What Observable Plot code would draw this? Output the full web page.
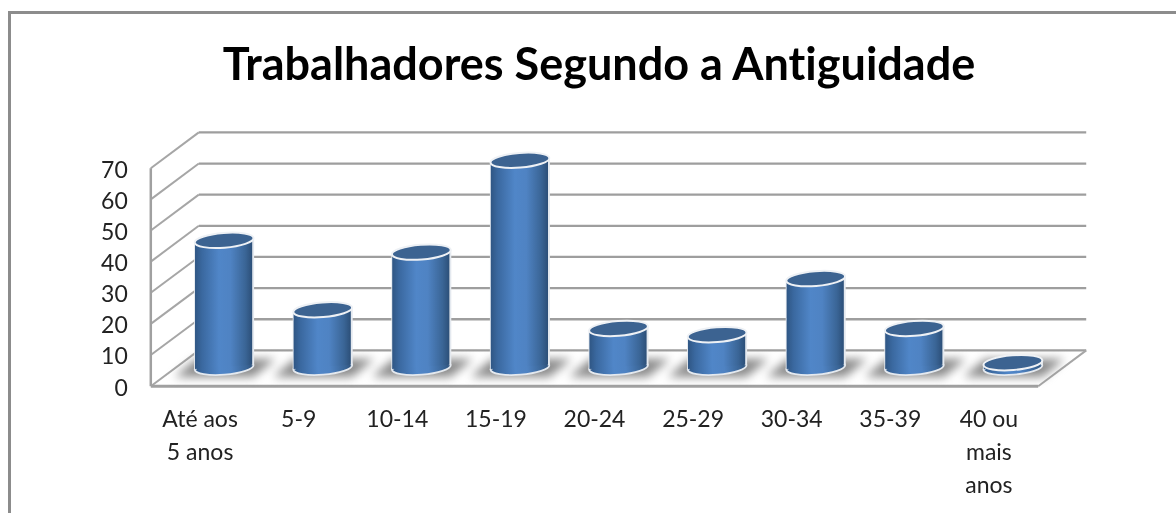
<!DOCTYPE html>
<html lang="pt">
<head>
<meta charset="utf-8">
<script src="https://cdn.jsdelivr.net/npm/d3@7"></script>
<script src="https://cdn.jsdelivr.net/npm/@observablehq/plot@0.6"></script>
<style>
html,body{margin:0;padding:0;background:#fff;width:1176px;height:513px;overflow:hidden}
#wrap{position:relative;width:1176px;height:513px;filter:blur(0.45px);font-variant-ligatures:none}
#frame{position:absolute;left:8px;top:11px;width:1200px;height:520px;border:3px solid #8c8c8c;box-sizing:border-box}
#title{position:absolute;left:0;top:34px;width:1198px;text-align:center;font:700 45px/58px Lato,sans-serif;color:#000;margin:0;font-variant-ligatures:none}
svg{position:absolute;left:0;top:0}
</style>
</head>
<body>
<div id="wrap">
<div id="frame"></div>
<h1 id="title">Trabalhadores Segundo a Antiguidade</h1>
</div>
<script>
const categories = ["Até aos\n5 anos","5-9","10-14","15-19","20-24","25-29","30-34","35-39","40 ou\nmais\nanos"];
const values = [40.8,18.5,37,66.5,12.5,10.5,28.5,12.5,1.5];
const yTicks = [0,10,20,30,40,50,60,70];

// 3-D projection expressed in data units
const depthX = 0.487, depthY = 11.5;
const halfBar = 0.29, tilt = 0.7;
const cx = i => i + 0.5 + depthX / 2;
const base = depthY / 2 + 0.3;

const bars = categories.map((c,i)=>({c,i,v:values[i],x:cx(i),y0:base,y1:base+values[i]}));
const sides = bars.flatMap(b=>[
  {b:b.i,x:b.x-halfBar,y0:b.y0-tilt,y1:b.y1-tilt},
  {b:b.i,x:b.x+halfBar,y0:b.y0+tilt,y1:b.y1+tilt}
]);

const ellipse = {draw(ctx,size){
  const r=Math.sqrt(size/Math.PI), ry=r*0.25, k=0.5523;
  ctx.moveTo(-r,0);
  ctx.bezierCurveTo(-r,-ry*k,-r*k,-ry,0,-ry);
  ctx.bezierCurveTo(r*k,-ry,r,-ry*k,r,0);
  ctx.bezierCurveTo(r,ry*k,r*k,ry,0,ry);
  ctx.bezierCurveTo(-r*k,ry,-r,ry*k,-r,0);
  ctx.closePath();
}};
const shadow = {draw(ctx,size){
  const r=Math.sqrt(size/Math.PI);
  ctx.moveTo(-r*0.88,r*0.17);
  ctx.lineTo(-r*0.5,-r*0.15);
  ctx.lineTo(r*0.92,-r*0.15);
  ctx.lineTo(r*0.52,r*0.17);
  ctx.closePath();
}};

const defs = () => {
  const ns="http://www.w3.org/2000/svg";
  const d=document.createElementNS(ns,"defs");
  d.innerHTML=`<linearGradient id="body" x1="0" x2="1" y1="0" y2="0">
    <stop offset="0" stop-color="#2f5684"/><stop offset="0.12" stop-color="#3a689f"/>
    <stop offset="0.42" stop-color="#5086c8"/><stop offset="0.62" stop-color="#4f83c3"/>
    <stop offset="0.88" stop-color="#3a6596"/><stop offset="1" stop-color="#2c4f78"/>
  </linearGradient>`;
  return d;
};

const chart = Plot.plot({
  width:1176,height:513,
  marginTop:167.7,marginBottom:127.3,marginLeft:150.3,marginRight:138.3,
  style:{background:"transparent",fontFamily:"Lato, sans-serif"},
  x:{type:"linear",domain:[0,9]},
  y:{type:"linear",domain:[0,70]},
  marks:[
    defs,
    // back wall
    Plot.link(yTicks,{x1:()=>depthX,x2:()=>9+depthX,y1:d=>d+depthY,y2:d=>d+depthY,stroke:"#9e9e9e",strokeWidth:2.3}),
    // side wall
    Plot.link(yTicks,{x1:()=>0,x2:()=>depthX,y1:d=>d,y2:d=>d+depthY,stroke:"#a6a6a6",strokeWidth:2}),
    Plot.link([0],{x1:()=>0,x2:()=>0,y1:()=>0,y2:()=>70,stroke:"#a0a0a0",strokeWidth:2.5}),
    // floor front
    Plot.link([0],{x1:()=>0,x2:()=>9,y1:()=>0,y2:()=>0,stroke:"#a0a0a0",strokeWidth:3}),
    Plot.link([0],{x1:()=>9,x2:()=>9+depthX,y1:()=>0,y2:()=>depthY,stroke:"#a6a6a6",strokeWidth:2}),
    // floor shadows
    Plot.dot(bars,{x:"x",y:"y0",symbol:shadow,r:56,fill:"#8a8a8a",stroke:"none",imageFilter:"blur(5px)"}),
    // cylinders
    Plot.dot(bars,{x:"x",y:"y0",symbol:ellipse,r:29.5,rotate:-4.5,fill:"url(#body)",stroke:"#e4e9ef",strokeWidth:1.8}),
    Plot.link(sides,{x1:"x",x2:"x",y1:"y0",y2:"y1",stroke:"#e4e9ef",strokeWidth:2.8}),
    Plot.areaY(sides,{x:"x",y1:"y0",y2:"y1",z:"b",fill:"url(#body)"}),
    Plot.dot(bars,{x:"x",y:"y1",symbol:ellipse,r:29.5,rotate:-4.5,fill:"#3c6391",stroke:"#eef1f5",strokeWidth:2}),
    // axes
    Plot.axisY({ticks:yTicks,tickSize:0,tickPadding:23,fontSize:23,color:"#222",label:null,anchor:"left",dy:2}),
    Plot.axisX({ticks:categories.map((c,i)=>i+0.5),tickFormat:x=>categories[x-0.5],tickSize:0,tickPadding:17,fontSize:23,color:"#222",label:null,anchor:"bottom",lineHeight:1.44,lineAnchor:"top"})
  ]
});
document.getElementById("wrap").appendChild(chart);
</script>
</body>
</html>
